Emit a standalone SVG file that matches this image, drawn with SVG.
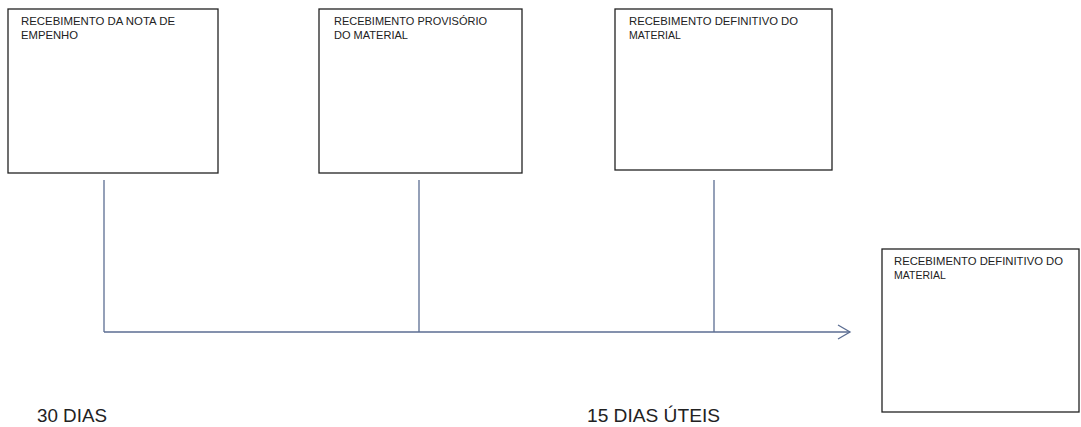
<svg xmlns="http://www.w3.org/2000/svg" width="1081" height="427" viewBox="0 0 1081 427">
<style>
.box{fill:#fff;stroke:#222;stroke-width:1.3}
.bt{font-family:"Liberation Sans",Arial,sans-serif;font-size:10.5px;fill:#222}
.lbl{font-family:"Liberation Sans",Arial,sans-serif;font-size:18px;fill:#222}
.ln{stroke:#5b6d92;stroke-width:1.3;fill:none}
</style>
<rect width="1081" height="427" fill="#fff"/>
<g id="node1">
<rect class="box" x="8" y="9" width="210" height="164"/>
<text class="bt" x="21" y="25" textLength="154" lengthAdjust="spacingAndGlyphs">RECEBIMENTO DA NOTA DE</text>
<text class="bt" x="21" y="39" textLength="57" lengthAdjust="spacingAndGlyphs">EMPENHO</text>
</g>
<g id="node2">
<rect class="box" x="319" y="9" width="203" height="164"/>
<text class="bt" x="334" y="25" textLength="153" lengthAdjust="spacingAndGlyphs">RECEBIMENTO PROVISÓRIO</text>
<text class="bt" x="334" y="39" textLength="74" lengthAdjust="spacingAndGlyphs">DO MATERIAL</text>
</g>
<g id="node3">
<rect class="box" x="615" y="9" width="217" height="161"/>
<text class="bt" x="629" y="25" textLength="169" lengthAdjust="spacingAndGlyphs">RECEBIMENTO DEFINITIVO DO</text>
<text class="bt" x="629" y="39">MATERIAL</text>
</g>
<g id="node4">
<rect class="box" x="882" y="249" width="197" height="163"/>
<text class="bt" x="894" y="265" textLength="169" lengthAdjust="spacingAndGlyphs">RECEBIMENTO DEFINITIVO DO</text>
<text class="bt" x="894" y="279">MATERIAL</text>
</g>
<g id="connectors">
<line class="ln" x1="104" y1="180" x2="104" y2="332"/>
<line class="ln" x1="419" y1="180" x2="419" y2="332"/>
<line class="ln" x1="714" y1="180" x2="714" y2="332"/>
<line class="ln" x1="104" y1="332" x2="850" y2="332"/>
<polyline class="ln" points="838,325 850,332 838,339"/>
</g>
<g id="labels">
<text class="lbl" x="37" y="422" textLength="70" lengthAdjust="spacingAndGlyphs">30 DIAS</text>
<text class="lbl" x="587" y="422" textLength="133" lengthAdjust="spacingAndGlyphs">15 DIAS ÚTEIS</text>
</g>
</svg>
